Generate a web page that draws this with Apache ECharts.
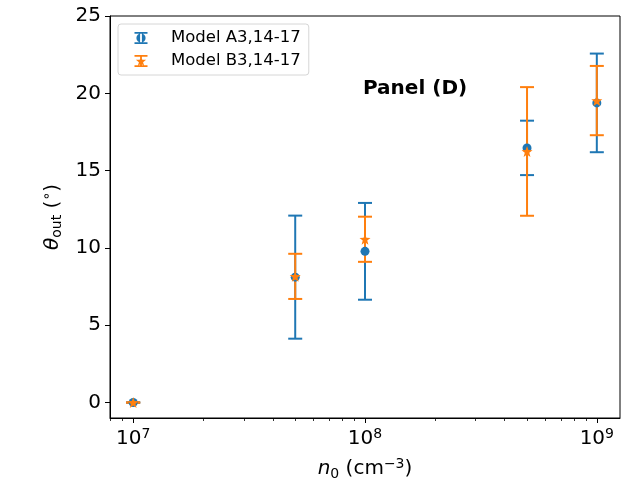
<!DOCTYPE html>
<html>
<head>
<meta charset="utf-8">
<script src="https://cdn.jsdelivr.net/npm/echarts@6/dist/echarts.min.js"></script>
<style>
html,body{margin:0;padding:0;background:#fff;}
#main{width:640px;height:480px;}
</style>
</head>
<body>
<div id="main"></div>
<script>
// density n0 (cm^-3)
var n0 = [1e7, 5e7, 1e8, 5e8, 1e9];
// Model A3,14-17
var thetaA = [0, 8.11, 9.78, 16.47, 19.38];
var errA = [0, 3.98, 3.13, 1.76, 3.19];
// Model B3,14-17
var thetaB = [0, 8.16, 10.56, 16.24, 19.53];
var errB = [0, 1.46, 1.46, 4.16, 2.24];

var xMajor = [1e7, 1e8, 1e9];
var xDecades = [1e6, 1e7, 1e8, 1e9];
var xMinorMult = [2, 3, 4, 5, 6, 7, 8, 9];
var yTicks = [0, 5, 10, 15, 20, 25];

var FONT = 'DejaVu Sans';
var BLUE = '#1f77b4', ORANGE = '#ff7f0e';
var xMin = Math.pow(10, 6.9), xMax = Math.pow(10, 9.1);

var xMinor = [];
xDecades.forEach(function (d) {
	xMinorMult.forEach(function (m) {
		var v = d * m;
		if (v > xMin && v < xMax) xMinor.push(v);
	});
});

function starPath(r, ri, cx, cy) {
	var s = '';
	for (var i = 0; i < 10; i++) {
		var a = (-90 + i * 36) * Math.PI / 180;
		var rr = i % 2 === 0 ? r : ri;
		s += (i === 0 ? 'M' : 'L') + (cx + rr * Math.cos(a)).toFixed(2) + ',' + (cy + rr * Math.sin(a)).toFixed(2);
	}
	return s + 'Z';
}

// legend icon: errorbar with marker, in a 40x20 box
function legendIcon(marker) {
	var p = 'M0,0h0.01v0.01h-0.01Z M39.99,19.99h0.01v0.01h-0.01Z ';
	p += 'M8.5,3.9h13v1.8h-13Z M8.5,14.3h13v1.8h-13Z M14.1,5h1.8v10h-1.8Z ';
	p += marker;
	return 'path://' + p;
}
var circleIcon = 'M10.4,10 A4.6,4.6 0 1,0 19.6,10 A4.6,4.6 0 1,0 10.4,10Z';
var starIcon = starPath(5.4, 2.2, 15, 10.5);

function errData(theta, err) {
	return n0.map(function (x, i) { return [x, theta[i], err[i]]; });
}
function ptData(theta) {
	return n0.map(function (x, i) { return [x, theta[i]]; });
}

function errRender(color) {
	return function (params, api) {
		var x = api.value(0), y = api.value(1), e = api.value(2);
		var top = api.coord([x, y + e]);
		var bot = api.coord([x, y - e]);
		var hw = 7;
		var st = { stroke: color, lineWidth: 2 };
		return {
			type: 'group',
			children: [
				{ type: 'line', shape: { x1: top[0], y1: top[1], x2: bot[0], y2: bot[1] }, style: st },
				{ type: 'line', shape: { x1: top[0] - hw, y1: top[1], x2: top[0] + hw, y2: top[1] }, style: st },
				{ type: 'line', shape: { x1: bot[0] - hw, y1: bot[1], x2: bot[0] + hw, y2: bot[1] }, style: st }
			]
		};
	};
}

var myChart = echarts.init(document.getElementById('main'));
var option = {
	animation: false,
	backgroundColor: '#fff',
	textStyle: { fontFamily: FONT },
	title: {
		text: 'Panel (D)',
		left: 363, top: 79, padding: 0,
		textStyle: { fontFamily: FONT, fontSize: 20, fontWeight: 'bold', color: '#000' }
	},
	legend: {
		orient: 'vertical',
		left: 118, top: 24,
		padding: [4, 8, 4, 8],
		itemWidth: 40, itemHeight: 20, itemGap: 3,
		borderColor: '#d6d6d6', borderWidth: 1, borderRadius: 3,
		backgroundColor: 'rgba(255,255,255,0.8)',
		selectedMode: false,
		textStyle: { fontFamily: FONT, fontSize: 16.5, color: '#000' },
		data: [
			{ name: 'Model A3,14-17', icon: legendIcon(circleIcon), itemStyle: { color: BLUE } },
			{ name: 'Model B3,14-17', icon: legendIcon(starIcon), itemStyle: { color: ORANGE } }
		]
	},
	grid: {
		left: 110, right: 20, top: 16, bottom: 62,
		outerBoundsMode: 'none', containLabel: false,
		show: true, borderColor: '#000', borderWidth: 1, backgroundColor: 'transparent'
	},
	xAxis: [{
		type: 'log', logBase: 10, min: xMin, max: xMax,
		position: 'bottom',
		name: '{it|n}{sub|0}{b| (cm}{sup|\u22123}{b|)}',
		nameLocation: 'middle', nameGap: 39,
		nameTextStyle: {
			rich: {
				it: { fontFamily: FONT, fontSize: 20, fontStyle: 'italic', color: '#000', lineHeight: 24 },
				b: { fontFamily: FONT, fontSize: 20, color: '#000', lineHeight: 24 },
				sub: { fontFamily: FONT, fontSize: 14, color: '#000', lineHeight: 12, verticalAlign: 'bottom' },
				sup: { fontFamily: FONT, fontSize: 14, color: '#000', lineHeight: 12, verticalAlign: 'top' }
			}
		},
		axisLine: { show: true, onZero: false, lineStyle: { color: '#000', width: 1 } },
		axisTick: { show: true, inside: false, length: 5, lineStyle: { color: '#000', width: 1 }, customValues: xMajor },
		axisLabel: {
			customValues: xMajor, margin: 9,
			formatter: function (v) {
				return '{b|10}{sup|' + Math.round(Math.log(v) / Math.LN10) + '}';
			},
			rich: {
				b: { fontFamily: FONT, fontSize: 20, color: '#000', lineHeight: 24 },
				sup: { fontFamily: FONT, fontSize: 14, color: '#000', lineHeight: 12, verticalAlign: 'top' }
			}
		},
		splitLine: { show: false }
	}, {
		type: 'log', logBase: 10, min: xMin, max: xMax,
		position: 'bottom', offset: 0,
		axisLine: { show: false, onZero: false },
		axisTick: { show: true, inside: false, length: 3, lineStyle: { color: '#000', width: 0.8 }, customValues: xMinor },
		axisLabel: { show: false },
		splitLine: { show: false }
	}],
	yAxis: {
		type: 'value', min: -1, max: 25,
		name: '{it|\u03b8}{sub|out}{b| (}{sup|\u2218}{b|)}',
		nameLocation: 'middle', nameGap: 43, nameRotate: 90,
		nameTextStyle: {
			rich: {
				it: { fontFamily: FONT, fontSize: 20, fontStyle: 'italic', color: '#000', lineHeight: 24 },
				b: { fontFamily: FONT, fontSize: 20, color: '#000', lineHeight: 24 },
				sub: { fontFamily: FONT, fontSize: 14, color: '#000', lineHeight: 12, verticalAlign: 'bottom' },
				sup: { fontFamily: FONT, fontSize: 14, color: '#000', lineHeight: 12, verticalAlign: 'top' }
			}
		},
		axisLine: { show: true, onZero: false, lineStyle: { color: '#000', width: 1 } },
		axisTick: { show: true, inside: false, length: 5, lineStyle: { color: '#000', width: 1 }, customValues: yTicks },
		axisLabel: { customValues: yTicks, margin: 9, fontFamily: FONT, fontSize: 20, color: '#000' },
		splitLine: { show: false }
	},
	series: [
		{
			name: 'Model A3,14-17', type: 'custom', xAxisIndex: 0,
			renderItem: errRender(BLUE), data: errData(thetaA, errA),
			encode: { x: 0, y: 1 }, z: 1, silent: true
		},
		{
			name: 'Model B3,14-17', type: 'custom', xAxisIndex: 0,
			renderItem: errRender(ORANGE), data: errData(thetaB, errB),
			encode: { x: 0, y: 1 }, z: 1, silent: true
		},
		{
			name: 'Model A3,14-17', type: 'scatter', xAxisIndex: 0,
			symbol: 'circle', symbolSize: 9,
			itemStyle: { color: BLUE, opacity: 1 },
			data: ptData(thetaA), z: 2, silent: true
		},
		{
			name: 'Model B3,14-17', type: 'scatter', xAxisIndex: 0,
			symbol: 'path://' + starPath(10, 4.1, 10, 10), symbolSize: 11,
			itemStyle: { color: ORANGE, opacity: 1 },
			data: ptData(thetaB), z: 3, silent: true
		}
	]
};
myChart.setOption(option);
</script>
</body>
</html>
